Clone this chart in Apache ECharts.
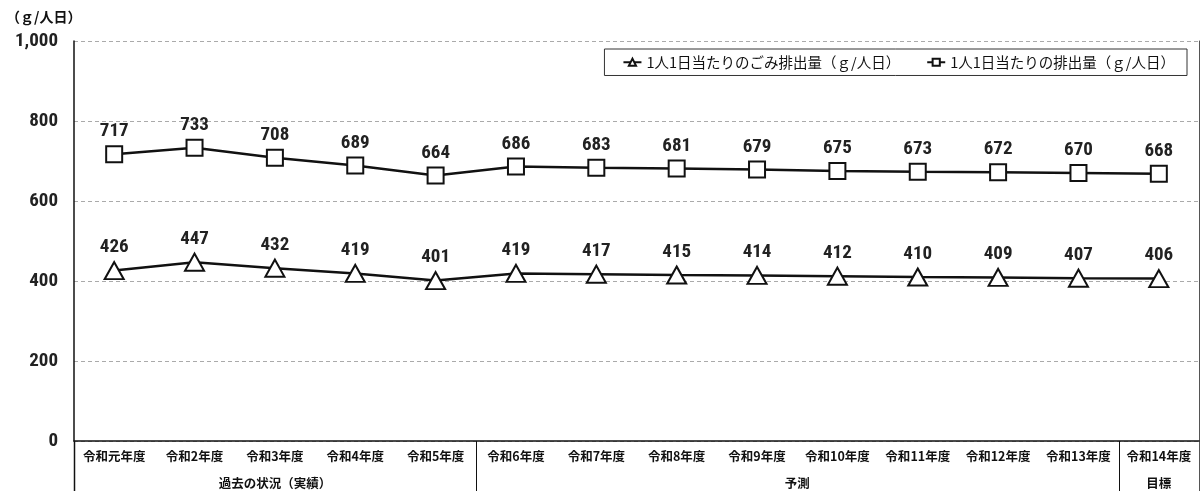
<!DOCTYPE html>
<html><head><meta charset="utf-8">
<script src="https://cdn.jsdelivr.net/npm/echarts@6/dist/echarts.min.js"></script>
<style>html,body{margin:0;padding:0;background:#fff}#c{width:1202px;height:491px}</style>
</head><body><div id="c"></div>
<script>
const categories = ['令和元年度','令和2年度','令和3年度','令和4年度','令和5年度','令和6年度','令和7年度','令和8年度','令和9年度','令和10年度','令和11年度','令和12年度','令和13年度','令和14年度'];
const gomiValues = [426,447,432,419,401,419,417,415,414,412,410,409,407,406];
const haishutsuValues = [717,733,708,689,664,686,683,681,679,675,673,672,670,668];
const seriesNames = ['1人1日当たりのごみ排出量（ｇ/人日）','1人1日当たりの排出量（ｇ/人日）'];
const groupNames = ['過去の状況（実績）','予測','目標'];
const groupSpans = [5,8,1];
const yTicks = [0,200,400,600,800,1000];
const unitLabel = '（ｇ/人日）';

const NUM_FONT = '"Roboto Condensed","Open Sans Condensed","Liberation Sans Narrow","DejaVu Sans Condensed",sans-serif';
const CJK_FONT = '"Noto Sans CJK JP",sans-serif';

const chart = echarts.init(document.getElementById('c'), null, {renderer:'canvas'});
const labelCfg = {show:true, position:'top', distance:4, fontFamily:NUM_FONT, fontWeight:'bold', fontSize:19, color:'#222'};
const option = {
  animation:false,
  grid:{left:74, right:3, top:41, bottom:50, containLabel:false},
  legend:{
    right:15, top:49, orient:'horizontal',
    borderColor:'#333', borderWidth:1, padding:[6,12,6,18],
    itemGap:26, itemWidth:18, itemHeight:9,
    textStyle:{fontFamily:CJK_FONT, fontSize:14.5, color:'#111'},
    data:seriesNames
  },
  xAxis:{
    type:'category', data:categories, boundaryGap:true,
    axisLine:{show:true, lineStyle:{color:'#111', width:1.5}},
    axisTick:{show:false},
    axisLabel:{interval:0, margin:9, fontFamily:CJK_FONT, fontWeight:'bold', fontSize:12.5, color:'#111'}
  },
  yAxis:[{
    type:'value', min:yTicks[0], max:yTicks[yTicks.length-1], interval:200,
    axisLine:{show:true, lineStyle:{color:'#111', width:1.5}},
    axisTick:{show:false},
    axisLabel:{margin:16, fontFamily:NUM_FONT, fontWeight:'bold', fontSize:19, color:'#222',
      formatter:v=>v.toLocaleString('en-US')},
    splitLine:{show:true, lineStyle:{color:'#aaa', type:[4,3], width:1}}
  },{
    type:'value', min:yTicks[0], max:yTicks[yTicks.length-1], interval:200, position:'right',
    axisLine:{show:true, lineStyle:{color:'#555', width:1}},
    axisTick:{show:false}, axisLabel:{show:false}, splitLine:{show:false}
  }],
  series:[{
    name:seriesNames[0], type:'line', data:gomiValues,
    symbol:'triangle', symbolSize:[19,17],
    lineStyle:{color:'#111', width:2.5},
    itemStyle:{color:'#fff', borderColor:'#111', borderWidth:2},
    label:labelCfg
  },{
    name:seriesNames[1], type:'line', data:haishutsuValues,
    symbol:'rect', symbolSize:16,
    lineStyle:{color:'#111', width:2.5},
    itemStyle:{color:'#fff', borderColor:'#111', borderWidth:2},
    label:labelCfg
  }]
};
chart.setOption(option);

const x0 = chart.convertToPixel({xAxisIndex:0}, 0);
const x1 = chart.convertToPixel({xAxisIndex:0}, 1);
const band = x1 - x0;
const yBase = chart.convertToPixel({yAxisIndex:0}, 0);
const H = chart.getHeight();
const g = [];
g.push({type:'text', left:6, top:10, style:{text:unitLabel, font:'bold 14px '+CJK_FONT, fill:'#111'}});
let start = 0;
const boundaries = [0];
groupSpans.forEach((s,i)=>{
  const left = x0 - band/2 + start*band;
  const right = left + s*band;
  g.push({type:'text', x:(left+right)/2, y:483, style:{text:groupNames[i], font:'bold 12.5px '+CJK_FONT, fill:'#111', align:'center', verticalAlign:'middle'}});
  start += s;
  boundaries.push(start);
});
boundaries.forEach((b,i)=>{
  const x = Math.round(x0 - band/2 + b*band) + 0.5;
  g.push({type:'line', shape:{x1:x, y1:yBase, x2:x, y2:H}, style:{stroke: i===boundaries.length-1 ? '#555':'#111', lineWidth: i===0?1.5:1}});
});
chart.setOption({graphic:g});
</script>
</body></html>
